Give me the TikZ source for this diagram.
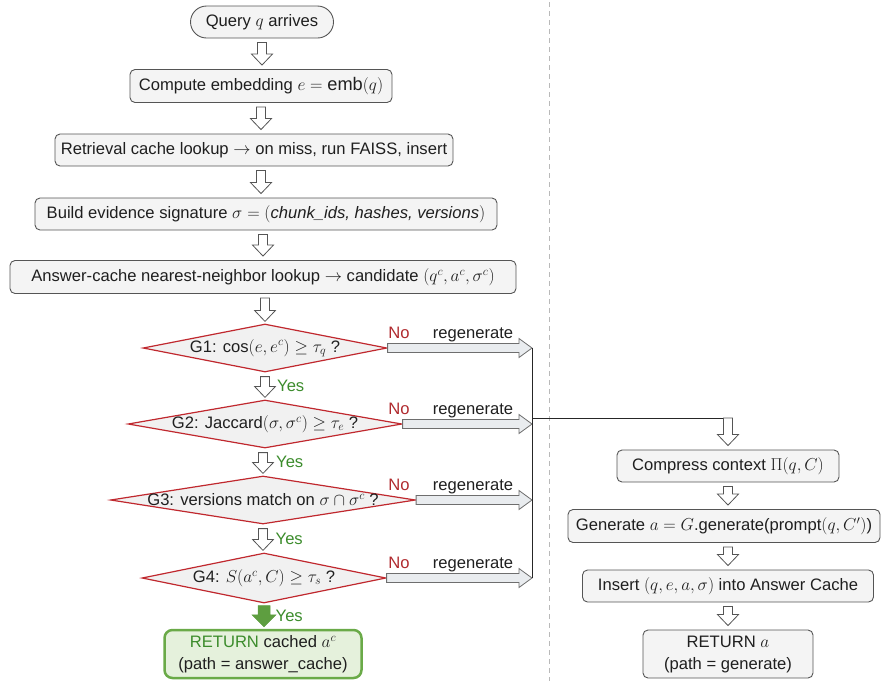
\documentclass[tikz,border=0pt]{standalone}
\usepackage{fontspec}
\setmainfont{Liberation Sans}
\DeclareMathSizes{16.6}{18.2}{13}{10}
\usetikzlibrary{shapes.geometric,calc}
\definecolor{boxfill}{HTML}{F4F4F4}
\definecolor{boxdraw}{HTML}{555555}
\definecolor{gatered}{HTML}{C0282E}
\definecolor{gatefill}{HTML}{F1F1F1}
\definecolor{nored}{HTML}{B02A2E}
\definecolor{yesgreen}{HTML}{3C8C2C}
\definecolor{okfill}{HTML}{E5F1DC}
\definecolor{okdraw}{HTML}{6AAA48}
\definecolor{arrowgreen}{HTML}{5E9E40}
\definecolor{regenfill}{HTML}{E9ECEF}
% hollow down arrow from #2 (top) to #3 (tip)
\newcommand{\hdown}[3][hollow]{\draw[#1] let \p1=(#2), \p2=(#3) in
  (\x1-4.5pt,\y1) -- (\x1-4.5pt,\y2+11pt) -- (\x1-10.5pt,\y2+11pt) -- (\x1,\y2)
  -- (\x1+10.5pt,\y2+11pt) -- (\x1+4.5pt,\y2+11pt) -- (\x1+4.5pt,\y1) -- cycle;}
% hollow right arrow from #1 to #2 (tip)
\newcommand{\hright}[2]{\draw[regen] let \p1=(#1), \p2=(#2) in
  (\x1,\y1+4.5pt) -- (\x2-13pt,\y1+4.5pt) -- (\x2-13pt,\y1+9.5pt) -- (\x2,\y1)
  -- (\x2-13pt,\y1-9.5pt) -- (\x2-13pt,\y1-4.5pt) -- (\x1,\y1-4.5pt) -- cycle;}
\begin{document}
\begin{tikzpicture}[x=1pt,y=-1pt,
  every node/.style={font=\fontsize{16.6}{19}\selectfont, inner sep=0pt, text=black!88},
  box/.style={draw=boxdraw, fill=boxfill, rounded corners=5pt, line width=0.9pt, minimum height=32},
  gate/.style={diamond, draw=gatered, fill=gatefill, line width=1.2pt, inner sep=0pt},
  hollow/.style={draw=boxdraw, fill=white, line width=0.8pt, line join=miter},
  solidgreen/.style={draw=arrowgreen, fill=arrowgreen, line width=0.5pt},
  regen/.style={draw=boxdraw!85, fill=regenfill, line width=0.8pt},
  nolab/.style={text=nored, anchor=base},
  reglab/.style={anchor=base},
  yeslab/.style={text=yesgreen, anchor=west},
  bus/.style={draw=black!85, line width=0.9pt},
]
\useasboundingbox (0,0) rectangle (888,681);
\draw[draw=gray!55, dash pattern=on 5pt off 4pt, line width=0.8pt] (549,2) -- (549,681);

% left column
\node[box, rounded corners=16pt, minimum width=143] (Q) at (262,22) {Query $q$ arrives};
\node[box, minimum width=262, minimum height=33] (C) at (261,86) {Compute embedding $e = \mathrm{emb}(q)$};
\node[box, minimum width=398] (R) at (254,150) {Retrieval cache lookup $\rightarrow$ on miss, run FAISS, insert};
\node[box, minimum width=462] (B) at (266,214) {Build evidence signature $\sigma = ($\textit{chunk\_ids, hashes, versions}$)$};
\node[box, minimum width=506, minimum height=33] (A) at (263,277) {Answer-cache nearest-neighbor lookup $\rightarrow$ candidate $(q^c, a^c, \sigma^c)$};

\node[gate, minimum width=244, minimum height=48] (G1) at (265,348) {};
\node (G1t) at (G1) {G1: cos$(e, e^c) \geq \tau_q$ ?};
\node[gate, minimum width=274, minimum height=48] (G2) at (265,424) {};
\node (G2t) at (G2) {G2: Jaccard$(\sigma, \sigma^c) \geq \tau_e$ ?};
\node[gate, minimum width=305, minimum height=48] (G3) at (263,500) {};
\node (G3t) at (G3) {G3: versions match on $\sigma \cap \sigma^c$ ?};
\node[gate, minimum width=244, minimum height=50] (G4) at (264,578) {};
\node (G4t) at (G4) {G4: $S(a^c, C) \geq \tau_s$ ?};

\node[box, draw=okdraw, fill=okfill, line width=2.5pt, rounded corners=8pt, minimum width=197, minimum height=48, align=center] (RC) at (263,654) {\textcolor{yesgreen}{RETURN} cached $a^c$\\[3pt](path = answer\_cache)};

% right column
\node[box, minimum width=222] (P) at (728,466) {Compress context $\Pi(q, C)$};
\node[box, minimum width=312, minimum height=33] (Gen) at (724,526) {Generate $a = G$.generate(prompt$(q, C')$)};
\node[box, minimum width=291] (I) at (728,586) {Insert $(q, e, a, \sigma)$ into Answer Cache};
\node[box, minimum width=170, minimum height=48, align=center] (RA) at (728,654) {RETURN $a$\\[3pt](path = generate)};

% vertical hollow arrows, left
\hdown{$(Q.south)+(0,4)$}{$(C.north)+(0,-4)$}
\hdown{$(C.south)+(0,4)$}{$(R.north -| C.south)+(0,-4)$}
\hdown{$(R.south -| C.south)+(0,4)$}{$(B.north -| C.south)+(0,-4)$}
\hdown{$(B.south -| A.north)+(0,4)$}{$(A.north)+(0,-4)$}
\hdown{$(A.south -| G1.north)+(0,4)$}{$(G1.north)+(0,-2)$}
\hdown{$(G1.south)+(0,4)$}{$(G2.north)+(0,-2)$}
\hdown{$(G2.south -| G3.north)+(0,4)$}{$(G3.north)+(0,-2)$}
\hdown{$(G3.south)+(0,4)$}{$(G4.north)+(0,-2)$}
\draw[solidgreen] let \p1=($(G4.south)+(0,2)$), \p2=($(RC.north)+(0,-2)$) in
  (\x1-6pt,\y1) -- (\x1-6pt,\y2+12pt) -- (\x1-12pt,\y2+12pt) -- (\x1,\y2)
  -- (\x1+12pt,\y2+12pt) -- (\x1+6pt,\y2+12pt) -- (\x1+6pt,\y1) -- cycle;

\node[yeslab] (Y1) at ($(G1.south)!0.5!(G2.north)+(12,0)$) {Yes};
\node[yeslab] (Y2) at ($(G2.south)!0.5!(G3.north)+(12,0)$) {Yes};
\node[yeslab] (Y3) at ($(G3.south)!0.5!(G4.north)+(12,0)$) {Yes};
\node[yeslab] (Y4) at ($(G4.south)!0.5!(RC.north)+(12,0)$) {Yes};

% regenerate arrows
\coordinate (bus) at (532,0);
\foreach \g in {G1,G2,G3,G4}{
  \hright{\g.east}{\g.east -| bus}
  \node[nolab] at ($(\g.east -| bus)+(-133,-10)$) {No};
  \node[reglab] at ($(\g.east -| bus)+(-59,-10)$) {regenerate};
}
\draw[bus] (G1.east -| bus) -- (G4.east -| bus);
\coordinate (J) at (532,418);
\draw[bus] (J) -- (J -| P.north);
\hdown{J -| P.north}{$(P.north)+(0,-4)$}

% vertical hollow arrows, right
\hdown{$(P.south)+(0,4)$}{$(Gen.north -| P.south)+(0,-4)$}
\hdown{$(Gen.south -| P.south)+(0,4)$}{$(I.north)+(0,-4)$}
\hdown{$(I.south)+(0,4)$}{$(RA.north)+(0,-4)$}
\end{tikzpicture}
\end{document}
